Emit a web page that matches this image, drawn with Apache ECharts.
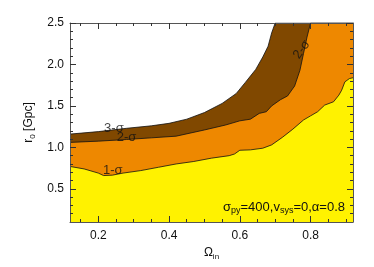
<!DOCTYPE html>
<html>
<head>
<meta charset="utf-8">
<script src="https://cdn.jsdelivr.net/npm/echarts@6/dist/echarts.min.js"></script>
<style>html,body{margin:0;padding:0;background:#fff}#c{width:374px;height:267px}</style>
</head>
<body>
<div id="c"></div>
<script>
// Contour boundaries: [Omega_in, r0 (Gpc)]
const omega3 = [0.12, 0.20, 0.28, 0.35, 0.40, 0.45, 0.50, 0.55, 0.59, 0.615, 0.63, 0.645, 0.665, 0.68, 0.69, 0.70, 0.92];
const r3     = [1.16, 1.19, 1.23, 1.26, 1.29, 1.34, 1.42, 1.53, 1.65, 1.78, 1.86, 1.94, 2.09, 2.22, 2.38, 2.50, 2.50];
const omega2 = [0.12, 0.20, 0.28, 0.35, 0.42, 0.50, 0.56, 0.60, 0.63, 0.655, 0.675, 0.69, 0.715, 0.735, 0.755, 0.77, 0.78, 0.79, 0.80, 0.92];
const r2     = [1.06, 1.075, 1.095, 1.115, 1.135, 1.21, 1.27, 1.32, 1.34, 1.41, 1.43, 1.50, 1.575, 1.62, 1.74, 1.93, 2.13, 2.33, 2.50, 2.50];
const omega1 = [0.12, 0.16, 0.20, 0.215, 0.24, 0.27, 0.32, 0.37, 0.42, 0.47, 0.52, 0.57, 0.585, 0.60, 0.63, 0.665, 0.69, 0.72, 0.75, 0.78, 0.80, 0.82, 0.84, 0.865, 0.88, 0.888, 0.897, 0.91, 0.92];
const r1     = [0.77, 0.74, 0.69, 0.66, 0.665, 0.69, 0.72, 0.76, 0.80, 0.83, 0.87, 0.90, 0.92, 0.965, 0.97, 0.99, 1.03, 1.12, 1.22, 1.33, 1.38, 1.43, 1.51, 1.55, 1.63, 1.69, 1.79, 1.83, 1.84];

// contour labels
const labelText  = ['3-σ', '2-σ', '1-σ', '2-σ'];
const labelOmega = [0.244, 0.28, 0.241, 0.775];
const labelR     = [1.225, 1.115, 0.72, 2.18];
const labelRot   = [0, 0, 0, 55];

// axis ticks
const xRange = [0.12, 0.92];
const yRange = [0.1, 2.5];
const xMajor = [0.2, 0.4, 0.6, 0.8];
const xMinor = [0.15, 0.2, 0.25, 0.3, 0.35, 0.4, 0.45, 0.5, 0.55, 0.6, 0.65, 0.7, 0.75, 0.8, 0.85, 0.9];
const yMajor = [0.5, 1.0, 1.5, 2.0, 2.5];
const yMinor = [0.2, 0.3, 0.4, 0.5, 0.6, 0.7, 0.8, 0.9, 1.0, 1.1, 1.2, 1.3, 1.4, 1.5, 1.6, 1.7, 1.8, 1.9, 2.0, 2.1, 2.2, 2.3, 2.4];

const FONT = 'Liberation Sans, Arial, Helvetica, sans-serif';
const AX = '#555';
const zip = (a, b) => a.map((v, i) => [v, b[i]]);

function axis(kind, pos, major, withLabel, vals, len, name) {
  const range = kind === 'x' ? xRange : yRange;
  const a = {
    type: 'value', position: pos, min: range[0], max: range[1],
    splitLine: {show: false},
    axisLine: {show: major, lineStyle: {color: AX, width: 1}},
    axisTick: {show: true, inside: true, length: len, customValues: vals, lineStyle: {color: '#333', width: 1}},
    axisLabel: withLabel ? {show: true, customValues: vals, formatter: v => v.toFixed(1), fontSize: 12, fontFamily: FONT, color: '#111', margin: kind === 'x' ? 8 : 6} : {show: false},
    z: 10
  };
  if (name) Object.assign(a, name);
  return a;
}

const sub = {fontSize: 8, fontFamily: FONT, color: '#111', padding: [7, 0, 0, 0]};

const chart = echarts.init(document.getElementById('c'), null, {renderer: 'canvas'});
chart.setOption({
  animation: false,
  backgroundColor: '#fff',
  grid: {left: 70, right: 21, top: 23, bottom: 45},
  xAxis: [
    axis('x', 'bottom', true, true, xMajor, 6, {
      name: 'Ω{s|in}', nameLocation: 'middle', nameGap: 20,
      nameTextStyle: {fontSize: 12, fontFamily: FONT, color: '#111', rich: {s: sub}}
    }),
    axis('x', 'bottom', false, false, xMinor, 3),
    axis('x', 'top', true, false, xMajor, 6),
    axis('x', 'top', false, false, xMinor, 3)
  ],
  yAxis: [
    axis('y', 'left', true, true, yMajor, 6, {
      name: 'r{s|0} [Gpc]', nameLocation: 'middle', nameGap: 22,
      nameTextStyle: {fontSize: 12, fontFamily: FONT, color: '#111', rich: {s: sub}}
    }),
    axis('y', 'left', false, false, yMinor, 3),
    axis('y', 'right', true, false, yMajor, 6),
    axis('y', 'right', false, false, yMinor, 3)
  ],
  series: [
    {type: 'line', data: zip(omega3, r3), symbol: 'none', smooth: false,
     lineStyle: {color: '#111', width: 0.8}, areaStyle: {color: '#804800', opacity: 1, origin: 'start'}, z: 2},
    {type: 'line', data: zip(omega2, r2), symbol: 'none', smooth: false,
     lineStyle: {color: '#111', width: 0.8}, areaStyle: {color: '#EE8800', opacity: 1, origin: 'start'}, z: 3},
    {type: 'line', data: zip(omega1, r1), symbol: 'none', smooth: false,
     lineStyle: {color: '#111', width: 0.8}, areaStyle: {color: '#FFF200', opacity: 1, origin: 'start'}, z: 4},
    {type: 'scatter', symbolSize: 0, z: 6,
     data: labelText.map((t, i) => ({value: [labelOmega[i], labelR[i]], name: t,
       label: {show: true, position: 'inside', formatter: t, rotate: labelRot[i],
               fontSize: 13, fontFamily: FONT, color: '#111'}})),
     silent: true}
  ],
  graphic: [{
    type: 'text', right: 29, bottom: 52, z: 20,
    style: {
      text: 'σ{s|py}=400,v{s|sys}=0,α=0.8',
      fontSize: 13, fontFamily: FONT, fill: '#111',
      rich: {s: {fontSize: 9, fontFamily: FONT, fill: '#111', padding: [7, 0, 0, 0]}}
    }
  }]
});
</script>
</body>
</html>
